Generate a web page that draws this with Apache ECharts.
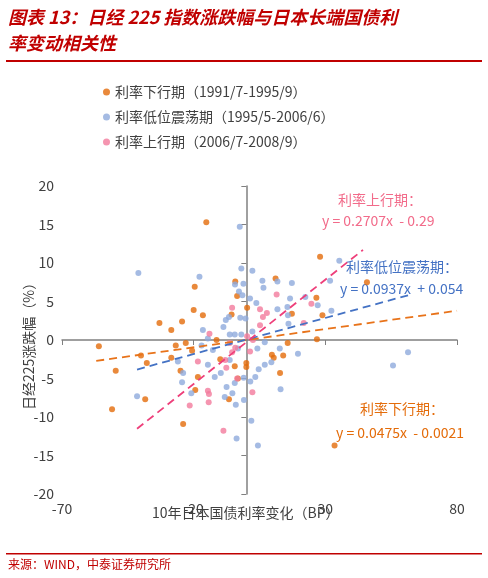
<!DOCTYPE html>
<html>
<head>
<meta charset="utf-8">
<script src="https://cdn.jsdelivr.net/npm/echarts@6/dist/echarts.min.js"></script>
<style>body{margin:0;background:#fff}#main{width:488px;height:578px}</style>
</head>
<body>
<div id="main"></div>
<script>
// 利率下行期 (1991/7-1995/9)
var downData = [[-15.2,15.3],[28,10.8],[45.8,7.5],[11.1,8.0],[-4.2,7.6],[-19.6,6.9],[-3.5,5.7],[0.3,4.2],[26.6,5.5],[-20,3.9],[-16.5,3.2],[-5.6,3.3],[28.9,3.2],[17.3,3.4],[-33,2.2],[-28.5,1.3],[-24.4,2.4],[26.8,0.1],[-56,-0.8],[-26.8,-0.7],[-23,-0.4],[-11.3,0],[15.7,-0.4],[-40,-2],[-28.5,-2.3],[-20.6,-1.4],[-37.8,-3],[-49.6,-4],[-25,-4],[-4.4,-3.4],[0,-3],[0,-3.5],[9.7,-1.9],[10.4,-2.3],[14,-2],[12.8,-4.3],[-9.9,-2.5],[-18.4,-4.8],[-3.2,-5],[-19.4,-6.5],[-6.6,-7.7],[-38.4,-7.7],[-51,-9],[-24,-10.9],[33.5,-13.7]];
// 利率低位震荡期 (1995/5-2006/6)
var lowData = [[-2.5,14.7],[-41,8.7],[-17.8,8.2],[-1.9,9.3],[2.3,9.0],[35.3,10.3],[31.8,7.7],[6.1,7.7],[6.5,6.8],[11.8,7.6],[17.3,7.4],[-4.3,7.2],[-1.1,7.3],[-2.8,6.3],[-1.5,5.8],[1.4,5.4],[3.8,4.8],[16.6,5.4],[22.4,5.6],[27.1,4.5],[32.3,3.8],[11.8,4],[15.6,4.3],[15.8,3.2],[-7.8,2.6],[-6.6,3],[-2.3,2.9],[-0.3,2.8],[-8.7,1.7],[-16.5,1.3],[16,2.1],[2.3,1.1],[-6.3,0.7],[-4.4,0.7],[-1.9,0.7],[-14.6,0.2],[7,-0.3],[19.6,-1.8],[61.4,-1.6],[55.7,-3.3],[-26,-2.8],[-24,-4.3],[-24.4,-5.5],[-20.9,-6.9],[-41.5,-7.3],[-14.6,-3.2],[-12,-4.8],[-9.7,-4.3],[-8.2,-7.4],[-7.5,-6.1],[-4.4,-5.6],[-5.3,-6.9],[-4,-8.4],[-0.9,-7.8],[-1,-4.9],[1.5,-5.4],[3.4,-4.8],[4.7,-3.8],[7,-3.2],[9.5,-2.9],[12.7,-1.1],[13,-6.4],[1.9,-10.5],[-3.7,-12.8],[4.4,-13.7],[-17,-0.7],[-12.7,-1.3],[-6.3,-2.6],[-3.2,-1.1],[4.2,-1.1]];
// 利率上行期 (2006/7-2008/9)
var upData = [[24.7,4.7],[11.5,5.9],[7.8,3.5],[6.3,3],[5.2,4],[-5.4,4.2],[5.2,1.9],[21.8,2.2],[-14,0.8],[0.3,0.5],[2.5,0],[-6.3,-0.4],[-4.2,-1],[1.4,-1.5],[-5.4,-1.6],[-8,-2.6],[-7.6,-3.6],[-14.6,-6.6],[-14.2,-7],[-14.3,-8.1],[-21.5,-8.5],[2.3,-6.8],[-8.7,-11.8],[-3.5,-5],[-18.4,-2.8]];

var names = ['利率下行期（1991/7-1995/9）','利率低位震荡期（1995/5-2006/6）','利率上行期（2006/7-2008/9）'];
var dotColors = ['#E46C0A','#8FAADC','#F27A9C'];
var lineColors = ['#E8731A','#4472C4','#EE3F7A'];
// trend line: slope, intercept, x range
var trends = [[0.0475,-0.0021,-57,80],[0.0937,0.054,-41.5,61.5],[0.2707,-0.29,-41.5,44.3]];

var dataSets = [downData, lowData, upData];
var series = [];
dataSets.forEach(function (d, i) {
    series.push({ name: names[i], type: 'scatter', data: d, symbolSize: 6,
        itemStyle: { color: dotColors[i] }, z: 3 });
});
trends.forEach(function (t, i) {
    series.push({ type: 'line', symbol: 'none', silent: true, z: 4,
        data: [[t[2], t[0]*t[2]+t[1]], [t[3], t[0]*t[3]+t[1]]],
        lineStyle: { color: lineColors[i], type: [8, 5], width: 1.8 } });
});

var myChart = echarts.init(document.getElementById('main'));
var font = 'Noto Sans CJK SC';
myChart.setOption({
    animation: false,
    textStyle: { fontFamily: font },
    legend: {
        orient: 'vertical', left: 98, top: 80, itemGap: 11,
        icon: 'circle', itemWidth: 7, itemHeight: 7,
        data: names,
        textStyle: { fontSize: 14, color: '#404040', fontFamily: font }
    },
    grid: { left: 62, right: 31, top: 186, bottom: 84, containLabel: false, outerBoundsMode: 'none' },
    xAxis: {
        type: 'value', min: -70, max: 80, interval: 50,
        splitLine: { show: false },
        axisLine: { onZero: true, lineStyle: { color: '#808080', width: 1.5 } },
        axisTick: { show: true, length: 5, lineStyle: { color: '#808080' } },
        axisLabel: { fontSize: 14, color: '#404040', margin: 8, showMinLabel: true, showMaxLabel: true }
    },
    yAxis: {
        type: 'value', min: -20, max: 20, interval: 5,
        splitLine: { show: false },
        axisLine: { onZero: true, lineStyle: { color: '#808080', width: 1.5 } },
        axisTick: { show: true, length: 5, lineStyle: { color: '#808080' } },
        axisLabel: { fontSize: 14, color: '#404040', margin: 8 }
    },
    graphic: [
        { type: 'text', left: 8, top: 4, style: { text: '图表 13：日经 225 指数涨跌幅与日本长端国债利\n率变动相关性',
            fill: '#C00000', font: 'italic bold 18px "Noto Sans CJK SC"', lineHeight: 26 } },
        { type: 'rect', shape: { x: 6, y: 60, width: 476, height: 2 }, style: { fill: '#C00000' } },
        { type: 'text', x: 22, y: 410, rotation: Math.PI / 2, style: { text: '日经225涨跌幅（%）', fill: '#404040',
            font: '14px "Noto Sans CJK SC"' } },
        { type: 'text', left: 152, top: 506, style: { text: '10年日本国债利率变化（BP）', fill: '#404040',
            font: '14px "Noto Sans CJK SC"' } },
        { type: 'rect', shape: { x: 6, y: 553, width: 476, height: 1.5 }, style: { fill: '#C00000' } },
        { type: 'text', left: 8, top: 558, style: { text: '来源：WIND，中泰证券研究所', fill: '#C00000',
            font: '12px "Noto Sans CJK SC"' } },
        { type: 'text', left: 338, top: 193, style: { text: '利率上行期：', fill: '#F26B8A', font: '14px "Noto Sans CJK SC"' } },
        { type: 'text', left: 322, top: 214, style: { text: 'y = 0.2707x  - 0.29', fill: '#F26B8A', font: '14px "Noto Sans CJK SC"' } },
        { type: 'text', left: 346, top: 260, style: { text: '利率低位震荡期：', fill: '#4472C4', font: '14px "Noto Sans CJK SC"' } },
        { type: 'text', left: 340, top: 282, style: { text: 'y = 0.0937x  + 0.054', fill: '#4472C4', font: '14px "Noto Sans CJK SC"' } },
        { type: 'text', left: 360, top: 402, style: { text: '利率下行期：', fill: '#E46C0A', font: '14px "Noto Sans CJK SC"' } },
        { type: 'text', left: 336, top: 426, style: { text: 'y = 0.0475x  - 0.0021', fill: '#E46C0A', font: '14px "Noto Sans CJK SC"' } }
    ],
    series: series
});
</script>
</body>
</html>
